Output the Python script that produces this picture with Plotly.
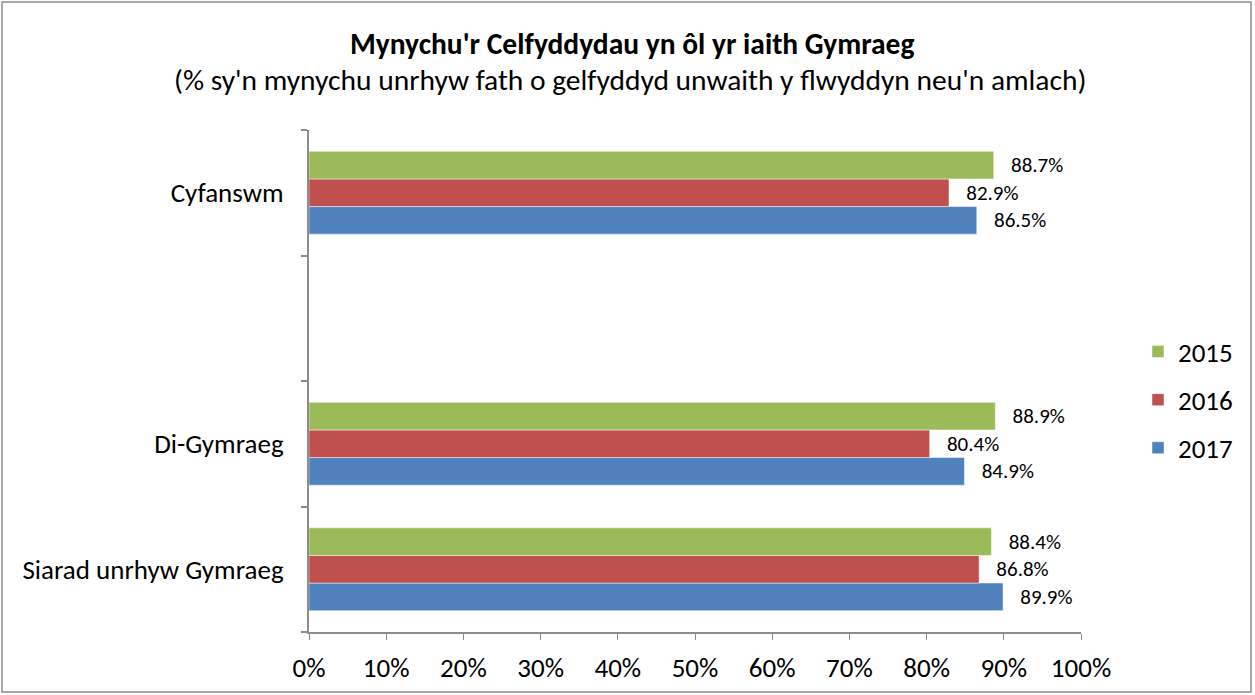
import plotly.graph_objects as go

categories = ["Siarad unrhyw Gymraeg", "Di-Gymraeg", " ", "Cyfanswm"]
years = ["2017", "2016", "2015"]
values_2017 = [89.9, 84.9, None, 86.5]
values_2016 = [86.8, 80.4, None, 82.9]
values_2015 = [88.4, 88.9, None, 88.7]
colors = {"2015": "#9BBB59", "2016": "#C0504D", "2017": "#4F81BD"}
legend_rank = {"2015": 1, "2016": 2, "2017": 3}
x_ticks = [0, 10, 20, 30, 40, 50, 60, 70, 80, 90, 100]
x_ticklabels = [f"{v}%" for v in x_ticks]

series = {"2017": values_2017, "2016": values_2016, "2015": values_2015}
FONT = "Carlito, Lato, 'Open Sans', sans-serif"

fig = go.Figure()
for yr in years:
    vals = series[yr]
    fig.add_trace(go.Bar(
        y=categories, x=vals, orientation="h", name=yr,
        legendgroup=yr, legendrank=legend_rank[yr],
        marker=dict(color=colors[yr], line=dict(color="rgba(255,255,255,0.6)", width=0.8)),
        text=[("   " + f"{v:.1f}%") if v is not None else "" for v in vals],
        textposition="outside", cliponaxis=False,
        textfont=dict(size=21, color="#000000", family=FONT),
    ))

L, R, T, B = 309, 174, 130, 63
W, H = 1255, 695
pw, ph = W - L - R, H - T - B

fig.update_layout(
    width=W, height=H,
    margin=dict(l=L, r=R, t=T, b=B),
    barmode="group", bargap=0.34, bargroupgap=0,
    paper_bgcolor="white", plot_bgcolor="white",
    font=dict(family=FONT, color="#000000"),
    showlegend=True,
    legend=dict(x=(1138 - L) / pw, y=(H - B - 400) / ph, xanchor="left", yanchor="middle",
                traceorder="grouped", tracegroupgap=10,
                font=dict(size=27, family=FONT), itemwidth=30),
    uniformtext=dict(minsize=21, mode="show"),
    annotations=[
        dict(text="<b>Mynychu'r Celfyddydau yn ôl yr iaith Gymraeg</b>", xref="paper", yref="paper",
             x=(632 - L) / pw, y=(H - B - 44) / ph, xanchor="center", yanchor="middle",
             showarrow=False, font=dict(size=29.5, family=FONT)),
        dict(text="(% sy'n mynychu unrhyw fath o gelfyddyd unwaith y flwyddyn neu'n amlach)", xref="paper", yref="paper",
             x=(630 - L) / pw, y=(H - B - 80) / ph, xanchor="center", yanchor="middle",
             showarrow=False, font=dict(size=29.5, family=FONT)),
    ],
    shapes=[dict(type="rect", xref="paper", yref="paper",
                 x0=(2 - L) / pw, x1=(1251 - L) / pw,
                 y0=(H - B - 692) / ph, y1=(H - B - 2) / ph,
                 line=dict(color="#8C8C8C", width=1.5), fillcolor="rgba(0,0,0,0)", layer="below")],
)
fig.update_xaxes(range=[0, 100], tickvals=x_ticks, ticktext=x_ticklabels,
                 showgrid=False, zeroline=False, showline=True, linecolor="#8C8C8C", linewidth=2,
                 ticks="outside", ticklen=6, tickcolor="#8C8C8C", tickwidth=1,
                 tickfont=dict(size=27, family=FONT), ticklabelstandoff=5)
fig.update_yaxes(categoryorder="array", categoryarray=categories,
                 showgrid=False, showline=True, linecolor="#8C8C8C", linewidth=2,
                 ticks="outside", ticklen=6, tickcolor="#8C8C8C", tickwidth=2, tickson="boundaries",
                 tickfont=dict(size=27, family=FONT), ticklabelstandoff=18)

fig.write_html("out.html", config={"displayModeBar": False},
               post_script="document.body.style.margin='0';")
